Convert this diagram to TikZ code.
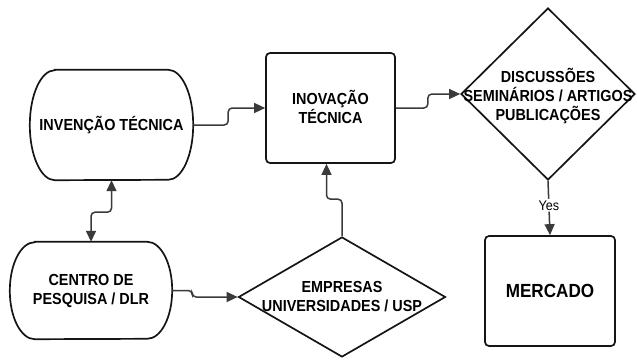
\documentclass[tikz,border=0pt]{standalone}
\usepackage{fontspec}
\setmainfont{Liberation Sans}[FakeStretch=0.9]
\usetikzlibrary{arrows.meta,shapes.geometric}
\definecolor{edgec}{HTML}{3A3A3A}
\definecolor{boxc}{HTML}{151515}
\tikzset{
  txt/.style={align=center,font=\fontsize{16}{19}\selectfont\bfseries,inner sep=0pt},
  hold/.style={draw=none,rectangle,inner sep=0pt},
  boxline/.style={draw=boxc,line width=1.7pt},
  rbox/.style={boxline,rectangle,rounded corners=4pt,inner sep=0pt},
  dbox/.style={boxline,diamond,inner sep=0pt},
  conn/.style={draw=edgec,line width=1.5pt,rounded corners=4pt,-{Triangle[length=11pt,width=10pt]}},
  conn2/.style={draw=edgec,line width=1.5pt,rounded corners=4pt,{Triangle[length=11pt,width=10pt]}-{Triangle[length=11pt,width=10pt]}}
}
\begin{document}
\begin{tikzpicture}[x=1pt,y=1pt]
\useasboundingbox (0,0) rectangle (637,360);
% INVENCAO (stadium)
\node[hold,minimum width=163pt,minimum height=110pt] (inv) at (111.5,235) {};
\draw[boxline] ([xshift=25pt]inv.north west) -- ([xshift=-25pt]inv.north east)
  arc[start angle=90,end angle=-90,x radius=25pt,y radius=55pt]
  -- ([xshift=25pt]inv.south west)
  arc[start angle=270,end angle=90,x radius=25pt,y radius=55pt] -- cycle;
\node[txt] (invt) at (inv.center) {INVENÇÃO TÉCNICA};
% CENTRO (stadium)
\node[hold,minimum width=162pt,minimum height=97pt] (cen) at (91,69.5) {};
\draw[boxline] ([xshift=25pt]cen.north west) -- ([xshift=-25pt]cen.north east)
  arc[start angle=90,end angle=-90,x radius=25pt,y radius=48.5pt]
  -- ([xshift=25pt]cen.south west)
  arc[start angle=270,end angle=90,x radius=25pt,y radius=48.5pt] -- cycle;
\node[txt] (cent) at (cen.center) {CENTRO DE\\PESQUISA / DLR};
% INOVACAO
\node[rbox,minimum width=129pt,minimum height=110pt] (ino) at (330.5,252) {};
\node[txt] (inot) at (330.5,253) {INOVAÇÃO\\TÉCNICA};
% DISCUSSOES diamond
\node[dbox,minimum width=174pt,minimum height=172pt] (dis) at (548,266) {};
\node[txt] (dist) at (548,264) {DISCUSSÕES\\SEMINÁRIOS / ARTIGOS\\PUBLICAÇÕES};
% MERCADO
\node[rbox,minimum width=130pt,minimum height=110pt] (mer) at (550,69) {};
\node[txt,font=\fontsize{19}{22}\selectfont\bfseries] (mert) at (mer.center) {MERCADO};
% EMPRESAS diamond
\node[dbox,minimum width=207pt,minimum height=120pt] (emp) at (342,63) {};
\node[txt] (empt) at (342,63.5) {EMPRESAS\\UNIVERSIDADES / USP};
% connectors
\draw[conn] (inv.east) -- ++(35,0) |- (ino.west);
\draw[conn] (ino.east) -- ++(32,0) |- (dis.west);
\draw[conn] (dis.south) -- (mer.north) node[pos=0.45,fill=white,inner sep=1.5pt,font=\fontsize{14}{16}\selectfont] (yes) {Yes};
\draw[conn2] (inv.south) -- ++(0,-32) -| (cen.north);
\draw[conn] (cen.east) -- ++(20,0) |- (emp.west);
\draw[conn] (emp.north) -- ++(0,37) -| ([xshift=-4pt]ino.south);
\end{tikzpicture}
\end{document}
